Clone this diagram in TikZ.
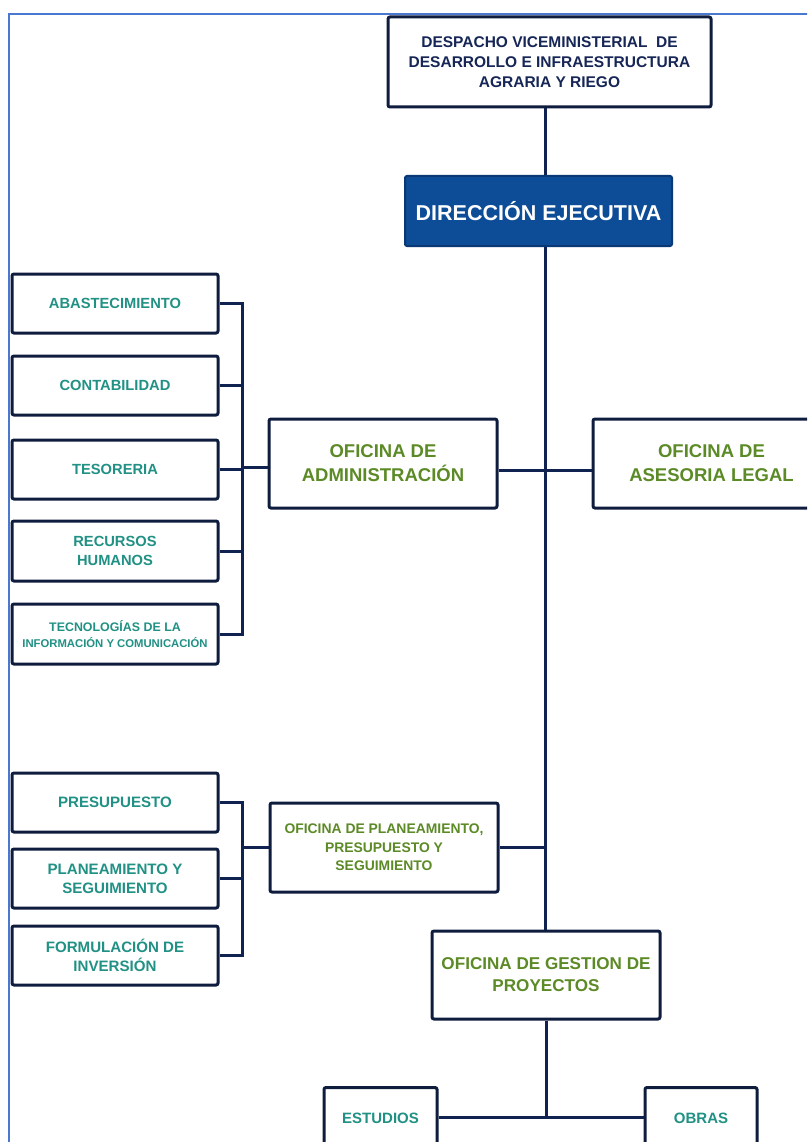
\documentclass[tikz,border=0pt]{standalone}
\usepackage{fontspec}
\setmainfont{Liberation Sans}
\definecolor{frameblue}{RGB}{74,120,208}
\definecolor{boxline}{RGB}{14,28,62}
\definecolor{wire}{RGB}{16,34,80}
\definecolor{headtext}{RGB}{22,38,86}
\definecolor{execfill}{RGB}{13,76,151}
\definecolor{execline}{RGB}{10,56,116}
\definecolor{unitteal}{RGB}{32,145,132}
\definecolor{officegreen}{RGB}{92,138,38}
\tikzset{
  box/.style={draw=boxline, line width=3pt, rounded corners=2pt, fill=white,
    align=center, inner sep=0pt},
  unit/.style={box, minimum width=206pt, minimum height=59pt, text=unitteal,
    font=\fontsize{14.7}{19}\selectfont\bfseries},
  office/.style={box, minimum width=228pt, minimum height=89pt, text=officegreen,
    font=\fontsize{18.5}{24}\selectfont\bfseries},
  wireline/.style={draw=wire, line width=3pt},
}
\begin{document}
\begin{tikzpicture}[x=1pt, y=-1pt]
\useasboundingbox (0,0) rectangle (807,1142);
\clip (0,0) rectangle (807,1142);

% page frame
\draw[frameblue, line width=2pt] (8.5,1150) -- (8.5,14.5) -- (820,14.5);

% trunk position and junction points
\coordinate (trunk) at (545,0);
\coordinate (lglY) at (0,470);
\coordinate (admY) at (0,467);
\coordinate (pptY) at (0,847);
\coordinate (brk) at (242,0);
\coordinate (subY) at (0,1117);

% head boxes
\node[box, minimum width=323pt, minimum height=90pt, text=headtext,
  font=\fontsize{15.5}{20}\selectfont\bfseries] (vice) at (549.5,62)
  {DESPACHO VICEMINISTERIAL \ DE\\DESARROLLO E INFRAESTRUCTURA\\AGRARIA Y RIEGO};

% main trunk (drawn before the boxes it passes)
\draw[wireline] (vice.south -| trunk) -- (545,931);

\node[draw=execline, line width=2pt, rounded corners=2pt, fill=execfill,
  minimum width=267pt, minimum height=70pt, inner sep=0pt, text=white,
  font=\fontsize{21.5}{26}\selectfont\bfseries] (exec) at (538.5,211)
  {DIRECCIÓN EJECUTIVA};

% administration branch
\node[office] (admin) at (383,463.5) {OFICINA DE\\ADMINISTRACIÓN};
\node[office, minimum width=237pt] (legal) at (711.5,463.5) {OFICINA DE\\ASESORIA LEGAL};

\node[unit] (abas) at (115,303.5) {ABASTECIMIENTO};
\node[unit] (cont) at (115,385.5) {CONTABILIDAD};
\node[unit] (teso) at (115,469.5) {TESORERIA};
\node[unit, minimum height=60pt] (rrhh) at (115,551) {RECURSOS\\HUMANOS};
\node[unit, minimum height=60pt, font=\fontsize{12.4}{16}\selectfont\bfseries] (tic) at (115,634)
  {TECNOLOGÍAS DE LA\\{\fontsize{11.3}{16}\selectfont INFORMACIÓN Y COMUNICACIÓN}};

% planning branch
\node[office, font=\fontsize{13.9}{18.5}\selectfont\bfseries] (ppto) at (384,847.5)
  {OFICINA DE PLANEAMIENTO,\\PRESUPUESTO Y\\SEGUIMIENTO};
\node[unit, font=\fontsize{15.1}{19}\selectfont\bfseries] (pres) at (115,802.5) {PRESUPUESTO};
\node[unit, font=\fontsize{15.1}{19}\selectfont\bfseries] (plan) at (115,878.5) {PLANEAMIENTO Y\\SEGUIMIENTO};
\node[unit, font=\fontsize{15.1}{19}\selectfont\bfseries] (form) at (115,955.5) {FORMULACIÓN DE\\INVERSIÓN};

% project management branch
\node[office, minimum height=88pt, font=\fontsize{17.1}{22}\selectfont\bfseries] (gest) at (546,975)
  {OFICINA DE GESTION DE\\PROYECTOS};
\node[box, anchor=north, minimum width=113pt, text height=36pt, text depth=68pt,
  text=unitteal, font=\fontsize{15}{19}\selectfont\bfseries] (est) at (380.5,1086) {ESTUDIOS};
\node[box, anchor=north, minimum width=112pt, text height=36pt, text depth=68pt,
  text=unitteal, font=\fontsize{15}{19}\selectfont\bfseries] (obras) at (701,1086) {OBRAS};

% connectors: administration
\draw[wireline] (admin.east |- lglY) -- (legal.west |- lglY);
\draw[wireline] (abas.east) -| (brk |- tic.east) -- (tic.east);
\draw[wireline] (cont.east) -- (brk |- cont.east);
\draw[wireline] (teso.east) -- (brk |- teso.east);
\draw[wireline] (rrhh.east) -- (brk |- rrhh.east);
\draw[wireline] (brk |- admY) -- (admin.west |- admY);

% connectors: planning
\draw[wireline] (ppto.east |- pptY) -- (trunk |- pptY);
\draw[wireline] (pres.east) -| (brk |- form.east) -- (form.east);
\draw[wireline] (plan.east) -- (brk |- plan.east);
\draw[wireline] (brk |- ppto.west) -- (ppto.west);

% connectors: projects
\draw[wireline] (gest.south) -- (gest.south |- subY);
\draw[wireline] (est.east |- subY) -- (obras.west |- subY);
\end{tikzpicture}
\end{document}
